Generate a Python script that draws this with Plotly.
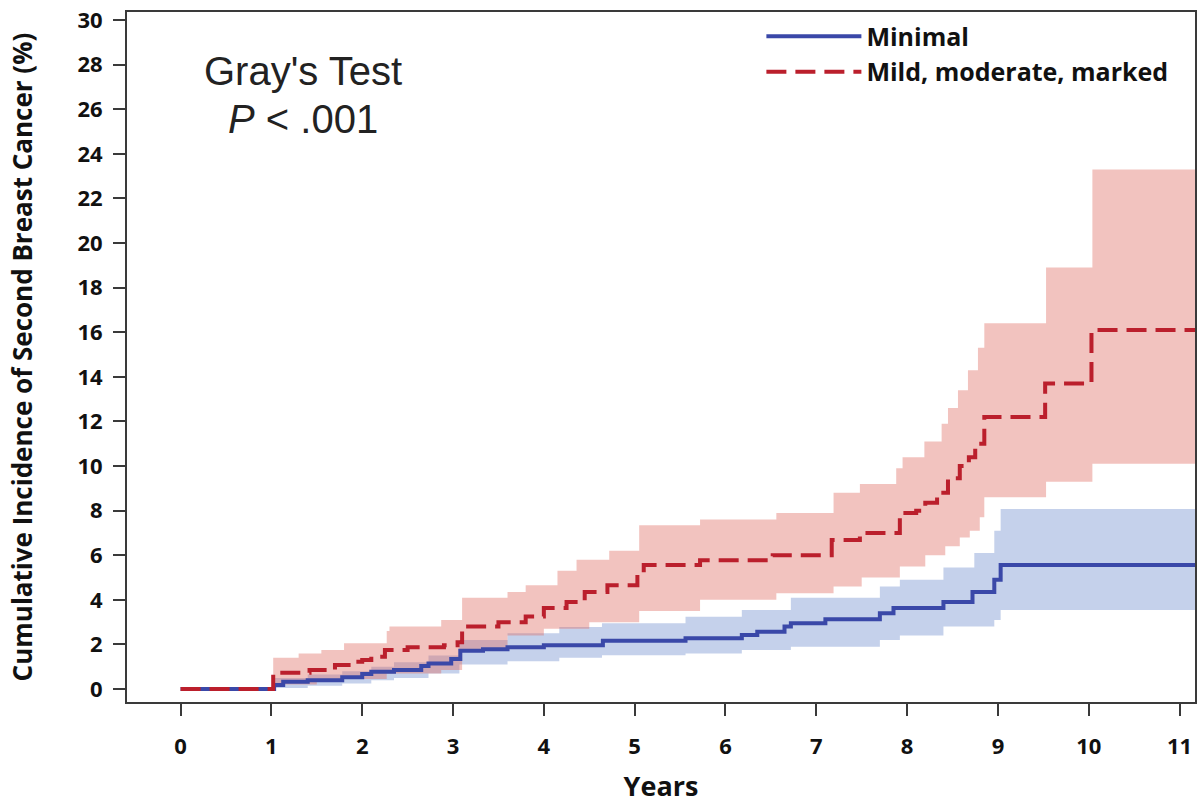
import plotly.graph_objects as go

# ---- data ----
years_ticks = list(range(0, 12))
y_ticks = list(range(0, 31, 2))

# Minimal
blue_t = [0, 1.03, 1.13, 1.4, 1.78, 2.0, 2.1, 2.35, 2.65, 2.73, 2.98, 3.08, 3.33, 3.6, 4.0, 4.65, 5.56, 6.18, 6.35, 6.65, 6.72, 7.1, 7.7, 7.85, 8.4, 8.72, 8.96, 9.03, 11.2]
blue_y = [0, 0.18, 0.33, 0.4, 0.53, 0.67, 0.78, 0.85, 1.03, 1.15, 1.35, 1.72, 1.79, 1.88, 1.97, 2.17, 2.28, 2.42, 2.57, 2.8, 2.95, 3.13, 3.4, 3.63, 3.9, 4.35, 4.9, 5.56, 5.56]
blue_up_t = [0, 1.03, 1.4, 1.78, 2.1, 2.35, 2.73, 3.07, 3.6, 4.17, 4.64, 5.56, 6.18, 6.72, 7.7, 7.92, 8.4, 8.74, 8.96, 9.03, 11.2]
blue_up_y = [0, 0.5, 0.65, 0.8, 1.0, 1.2, 1.5, 2.2, 2.5, 2.78, 2.95, 3.24, 3.54, 4.1, 4.6, 4.9, 5.45, 6.1, 7.1, 8.07, 8.07]
blue_lo_t = [0, 1.03, 1.4, 1.78, 2.1, 2.35, 2.73, 3.07, 3.6, 4.17, 4.64, 5.56, 6.18, 6.72, 7.7, 7.92, 8.4, 8.96, 9.03, 11.2]
blue_lo_y = [0, 0.05, 0.15, 0.25, 0.4, 0.5, 0.7, 1.1, 1.25, 1.4, 1.52, 1.6, 1.75, 1.9, 2.2, 2.4, 2.8, 3.1, 3.54, 3.54]

# Mild, moderate, marked
red_t = [0, 1.02, 1.42, 1.7, 1.85, 2.0, 2.1, 2.25, 2.5, 2.9, 3.05, 3.1, 3.5, 3.8, 4.0, 4.25, 4.45, 4.7, 5.03, 5.1, 5.72, 6.52, 7.17, 7.48, 7.92, 8.1, 8.2, 8.33, 8.45, 8.58, 8.68, 8.75, 8.85, 9.52, 10.03, 11.2]
red_y = [0, 0.73, 0.85, 1.08, 1.22, 1.3, 1.45, 1.75, 1.88, 1.97, 2.1, 2.8, 3.0, 3.25, 3.63, 3.9, 4.35, 4.66, 5.2, 5.56, 5.78, 6.0, 6.68, 7.0, 7.9, 8.0, 8.35, 8.8, 9.45, 10.0, 10.4, 11.0, 12.2, 13.7, 16.1, 16.1]
red_up_t = [0, 1.02, 1.3, 1.55, 1.8, 2.27, 2.3, 2.87, 3.1, 3.6, 3.8, 4.15, 4.36, 4.72, 5.05, 5.72, 6.56, 7.19, 7.48, 7.88, 7.95, 8.19, 8.38, 8.45, 8.56, 8.67, 8.78, 8.85, 9.53, 10.04, 11.2]
red_up_y = [0, 1.4, 1.6, 1.75, 2.05, 2.6, 2.8, 3.1, 4.1, 4.35, 4.65, 5.3, 5.8, 6.2, 7.35, 7.6, 7.9, 8.8, 9.2, 9.9, 10.4, 11.1, 11.9, 12.6, 13.4, 14.3, 15.3, 16.4, 18.9, 23.3, 23.3]
red_lo_t = [0, 1.02, 1.5, 1.8, 2.27, 2.87, 3.1, 3.6, 4.0, 4.5, 5.05, 5.72, 6.56, 7.19, 7.5, 7.92, 8.2, 8.42, 8.58, 8.69, 8.8, 8.85, 9.53, 10.04, 11.2]
red_lo_y = [0, 0.2, 0.35, 0.45, 0.7, 0.85, 1.75, 2.4, 2.7, 3.0, 3.5, 4.0, 4.3, 4.6, 5.0, 5.5, 6.0, 6.4, 6.8, 7.1, 7.7, 8.6, 9.3, 10.1, 10.1]

series_names = ["Minimal", "Mild, moderate, marked"]

BLUE = "#3a48a8"
RED = "#bb1f2c"
BLUE_FILL = "rgba(95,128,200,0.36)"
RED_FILL = "rgba(222,105,95,0.40)"
TXT = "#111111"
AXC = "#3a3a3a"

fig = go.Figure()

# confidence bands
fig.add_trace(go.Scatter(x=blue_lo_t, y=blue_lo_y, mode="lines", line=dict(width=0, shape="hv"),
                         showlegend=False, hoverinfo="skip"))
fig.add_trace(go.Scatter(x=blue_up_t, y=blue_up_y, mode="lines", line=dict(width=0, shape="hv"),
                         fill="tonexty", fillcolor=BLUE_FILL, showlegend=False, hoverinfo="skip"))
fig.add_trace(go.Scatter(x=red_lo_t, y=red_lo_y, mode="lines", line=dict(width=0, shape="hv"),
                         showlegend=False, hoverinfo="skip"))
fig.add_trace(go.Scatter(x=red_up_t, y=red_up_y, mode="lines", line=dict(width=0, shape="hv"),
                         fill="tonexty", fillcolor=RED_FILL, showlegend=False, hoverinfo="skip"))

# curves
fig.add_trace(go.Scatter(x=blue_t, y=blue_y, mode="lines", name=series_names[0],
                         line=dict(color=BLUE, width=4, shape="hv")))
fig.add_trace(go.Scatter(x=red_t, y=red_y, mode="lines", name=series_names[1],
                         line=dict(color=RED, width=4, shape="hv", dash="20px,9px")))

fig.add_annotation(x=1.35, y=27.7, xref="x", yref="y", text="Gray's Test", showarrow=False,
                   font=dict(family="Liberation Sans", size=40, color="#222222"))
fig.add_annotation(x=1.35, y=25.55, xref="x", yref="y", text="<i>P</i> < .001", showarrow=False,
                   font=dict(family="Liberation Sans", size=40, color="#222222"))

fig.update_layout(
    width=1198, height=804,
    margin=dict(l=127, r=3, t=12, b=102),
    paper_bgcolor="white", plot_bgcolor="white",
    showlegend=True,
    legend=dict(x=0.594, y=0.998, xanchor="left", yanchor="top", traceorder="normal",
                font=dict(family="Open Sans", size=25, color=TXT, weight="bold"),
                bgcolor="rgba(0,0,0,0)", itemwidth=95, tracegroupgap=0),
    xaxis=dict(range=[-0.59, 11.17], tickvals=years_ticks, ticktext=[str(v) for v in years_ticks],
               automargin=False, ticklabeloverflow="allow",
               showgrid=False, zeroline=False, showline=True, linecolor=AXC, linewidth=2,
               mirror=True, ticks="outside", ticklen=12, tickwidth=1.5, tickcolor=AXC,
               tickfont=dict(family="Open Sans", size=22, color=TXT, weight="bold"),
               ticklabelstandoff=12,
               title=dict(text="Years", font=dict(family="Open Sans", size=27, color=TXT, weight="bold"),
                          standoff=20)),
    yaxis=dict(range=[-0.58, 30.36], tickvals=y_ticks, ticktext=[str(v) for v in y_ticks],
               automargin=False, ticklabeloverflow="allow",
               showgrid=False, zeroline=False, showline=True, linecolor=AXC, linewidth=2,
               mirror=True, ticks="outside", ticklen=12, tickwidth=1.5, tickcolor=AXC,
               tickfont=dict(family="Open Sans", size=22, color=TXT, weight="bold"),
               ticklabelstandoff=6,
               title=dict(text="Cumulative Incidence of Second Breast Cancer (%)",
                          font=dict(family="Open Sans", size=26, color=TXT, weight="bold"),
                          standoff=37)),
)

# remove the browser's default 8px page margin so the figure fills the window exactly
fig.write_html("out.html", config={"displayModeBar": False},
               post_script="document.body.style.margin='0';")
